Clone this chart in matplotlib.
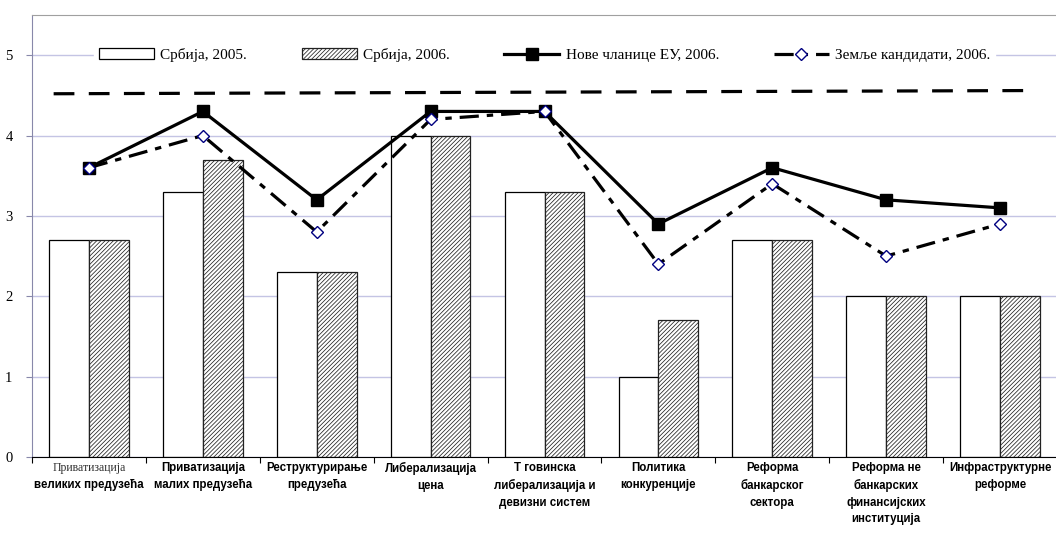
import numpy as np
import matplotlib.pyplot as plt

categories = [
    "Приватизација\nвеликих предузећа",
    "Приватизација\nмалих предузећа",
    "Реструктурирање\nпредузећа",
    "Либерализација\nцена",
    "Т говинска\nлиберализација и\nдевизни систем",
    "Политика\nконкуренције",
    "Реформа\nбанкарског\nсектора",
    "Реформа не\nбанкарских\nфинансијских\nинституција",
    "Инфраструктурне\nреформе",
]
srb_2005 = [2.7, 3.3, 2.3, 4.0, 3.3, 1.0, 2.7, 2.0, 2.0]
srb_2006 = [2.7, 3.7, 2.3, 4.0, 3.3, 1.7, 2.7, 2.0, 2.0]
eu_new_2006 = [3.6, 4.3, 3.2, 4.3, 4.3, 2.9, 3.6, 3.2, 3.1]
candidates_2006 = [3.6, 4.0, 2.8, 4.2, 4.3, 2.4, 3.4, 2.5, 2.9]
ref_line_x = [-0.31, 8.28]
ref_line_y = [4.52, 4.56]

serif = ['Liberation Serif', 'DejaVu Serif']
sans = ['Liberation Sans', 'DejaVu Sans']

plt.rcParams['hatch.linewidth'] = 0.55

fig = plt.figure(figsize=(10.56, 5.38), dpi=100)
ax = fig.add_axes([32 / 1056, 1 - 457 / 538, 1025 / 1056, 442 / 538])

x = np.arange(len(categories))
w = 0.35
b1 = ax.bar(x - w / 2, srb_2005, w, color='white', edgecolor='black', linewidth=0.9,
            label='Србија, 2005.', zorder=2)
b2 = ax.bar(x + w / 2, srb_2006, w, color='white', edgecolor='#222222', linewidth=0.9,
            hatch='////////', label='Србија, 2006.', zorder=2)

ax.plot(ref_line_x, ref_line_y, color='black', lw=2.3, linestyle=(0, (6.5, 4.5)), zorder=3)
l1, = ax.plot(x, eu_new_2006, color='black', lw=2.3, marker='s', markersize=9,
              label='Нове чланице ЕУ, 2006.', zorder=4)
l2, = ax.plot(x, candidates_2006, color='black', lw=2.3, linestyle=(0, (6, 2.5, 2, 2.5)),
              marker='D', markersize=6.5, markerfacecolor='white', markeredgecolor='#000080',
              markeredgewidth=1.0, label='Земље кандидати, 2006.', zorder=5)

ax.set_xlim(-0.5, len(categories) - 0.5)
ax.set_ylim(0, 5.5)
ax.set_yticks(range(6))
ax.set_yticklabels([str(i) for i in range(6)], fontfamily=serif, fontsize=10.5)
ax.yaxis.grid(True, color='#c4c4e4', linewidth=1.0, zorder=0)
ax.set_axisbelow(True)
ax.tick_params(axis='y', length=4, color='#8888aa', pad=10)

ax.set_xticks(np.arange(len(categories) + 1) - 0.5)
ax.set_xticklabels([])
ax.tick_params(axis='x', length=4, color='black')

ax.spines['left'].set_color('#8888aa')
ax.spines['bottom'].set_color('black')
ax.spines['top'].set_color('#a0a0a0')
ax.spines['right'].set_visible(False)

tr = ax.get_xaxis_transform()
for i, lab in enumerate(categories):
    if i == 0:
        first, rest = lab.split('\n', 1)
        ax.text(i, -0.012, first, ha='center', va='top', fontfamily=serif,
                fontsize=8.5, color='#333333', transform=tr)
        ax.text(i, -0.05, rest, ha='center', va='top', fontfamily=sans,
                fontweight='bold', fontsize=8.3, linespacing=1.5, transform=tr)
    else:
        ax.text(i, -0.012, lab, ha='center', va='top', fontfamily=sans,
                fontweight='bold', fontsize=8.3, linespacing=1.5, transform=tr)

leg = ax.legend([b1, b2, l1, l2], [b1.get_label(), b2.get_label(), l1.get_label(), l2.get_label()],
                loc='upper center', bbox_to_anchor=(0.5, 0.953), ncol=4,
                frameon=True, fancybox=False, edgecolor='white', framealpha=1,
                prop={'family': serif, 'size': 11}, handlelength=3.6,
                columnspacing=3.6, handletextpad=0.4, borderpad=0.3)

fig.savefig('out.png', dpi=100)
